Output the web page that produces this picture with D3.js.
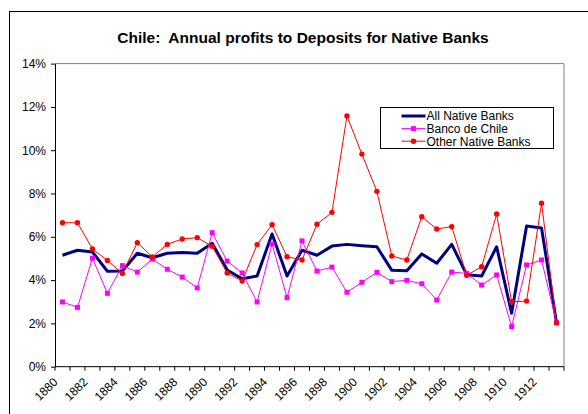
<!DOCTYPE html>
<html>
<head>
<meta charset="utf-8">
<script src="https://cdn.jsdelivr.net/npm/d3@7"></script>
<style>
  body { margin: 0; background: #fff; }
  svg { font-family: "Liberation Sans", Arial, sans-serif; }
</style>
</head>
<body>
<script>
const years = d3.range(1880, 1914);
const allBanks = [5.15, 5.38, 5.30, 4.41, 4.42, 5.24, 5.03, 5.24, 5.28, 5.24,
  5.70, 4.47, 4.06, 4.19, 6.13, 4.19, 5.38, 5.15, 5.57, 5.65,
  5.59, 5.54, 4.45, 4.43, 5.21, 4.78, 5.65, 4.25, 4.19, 5.54,
  2.47, 6.50, 6.41, 2.03];
const bancoChile = [2.99, 2.74, 5.01, 3.39, 4.67, 4.37, 4.97, 4.50, 4.14, 3.64,
  6.19, 4.88, 4.33, 2.99, 5.67, 3.19, 5.81, 4.42, 4.60, 3.44,
  3.90, 4.36, 3.93, 3.99, 3.83, 3.08, 4.37, 4.31, 3.77, 4.24,
  1.85, 4.70, 4.93, 2.03];
const otherBanks = [6.65, 6.65, 5.44, 4.91, 4.31, 5.73, 5.07, 5.65, 5.90, 5.96,
  5.56, 4.33, 3.96, 5.64, 6.56, 5.08, 4.93, 6.58, 7.13, 11.58,
  9.82, 8.10, 5.11, 4.93, 6.93, 6.36, 6.47, 4.22, 4.62, 7.05,
  3.00, 3.03, 7.55, 2.03];
const yTicks = [0, 0.02, 0.04, 0.06, 0.08, 0.10, 0.12, 0.14];

const series = [
  { name: "All Native Banks", values: allBanks, color: "#000080", width: 3, marker: null },
  { name: "Banco de Chile", values: bancoChile, color: "#ff00ff", width: 1, marker: "square" },
  { name: "Other Native Banks", values: otherBanks, color: "#ff0000", width: 1, marker: "circle" }
];

const W = 588, H = 414;
const pLeft = 55, pRight = 564, pTop = 63.6, pBottom = 366.7;

const svg = d3.select("body").append("svg")
  .attr("width", W)
  .attr("height", H);

// outer chart frame (runs off the window on the right and bottom)
svg.append("rect")
  .attr("x", 9.5).attr("y", 11.5)
  .attr("width", 620).attr("height", 440)
  .attr("fill", "none").attr("stroke", "#000");

svg.append("text")
  .attr("x", 303).attr("y", 43)
  .attr("text-anchor", "middle")
  .attr("font-size", 15.5).attr("font-weight", "bold")
  .style("white-space", "pre")
  .text("Chile:  Annual profits to Deposits for Native Banks");

const x = d3.scaleBand().domain(years).range([pLeft, pRight]);
const y = d3.scaleLinear().domain([0, 0.14]).range([pBottom, pTop]);
const cx = d => x(d) + x.bandwidth() / 2;

// plot area border (grey top and right)
svg.append("path")
  .attr("d", `M${pLeft},${y(0.14)}H${pRight}V${pBottom}`)
  .attr("fill", "none").attr("stroke", "#808080");

// y axis
const yAxis = svg.append("g")
  .attr("transform", `translate(${pLeft},0)`)
  .call(d3.axisLeft(y).tickValues(yTicks).tickFormat(d3.format(".0%")).tickSize(4).tickSizeOuter(0));
yAxis.select(".domain").attr("stroke", "#000");
yAxis.selectAll("text").attr("font-size", 12).attr("fill", "#000")
  .attr("font-family", "Liberation Sans, Arial, sans-serif").attr("dx", -2);

// x axis: line, ticks at category boundaries, rotated labels
const xg = svg.append("g");
xg.append("line")
  .attr("x1", pLeft).attr("x2", pRight)
  .attr("y1", pBottom).attr("y2", pBottom)
  .attr("stroke", "#000");
xg.selectAll(".tick")
  .data(years.map(d => x(d)).concat([pRight]))
  .enter().append("line")
  .attr("x1", d => d).attr("x2", d => d)
  .attr("y1", pBottom).attr("y2", pBottom + 4)
  .attr("stroke", "#000");
xg.selectAll(".lab")
  .data(years.filter((d, i) => i % 2 === 0))
  .enter().append("text")
  .attr("transform", d => `translate(${cx(d) - 4},${pBottom + 16}) rotate(-45)`)
  .attr("text-anchor", "end")
  .attr("font-size", 12)
  .text(d => d);

// series
const line = d3.line().x((d, i) => cx(years[i])).y(d => y(d / 100));
series.forEach(s => {
  svg.append("path")
    .datum(s.values)
    .attr("d", line)
    .attr("fill", "none")
    .attr("stroke", s.color)
    .attr("stroke-width", s.width)
    .attr("stroke-linejoin", "round");
  if (s.marker === "square") {
    svg.selectAll(null).data(s.values).enter().append("rect")
      .attr("x", (d, i) => cx(years[i]) - 2.5)
      .attr("y", d => y(d / 100) - 2.5)
      .attr("width", 5).attr("height", 5)
      .attr("fill", s.color);
  } else if (s.marker === "circle") {
    svg.selectAll(null).data(s.values).enter().append("circle")
      .attr("cx", (d, i) => cx(years[i]))
      .attr("cy", d => y(d / 100))
      .attr("r", 2.7)
      .attr("fill", s.color);
  }
});

// legend
const lg = svg.append("g").attr("transform", "translate(380.5,107.5)");
lg.append("rect")
  .attr("width", 173).attr("height", 41)
  .attr("fill", "#fff").attr("stroke", "#000");
series.forEach((s, i) => {
  const ly = 8.5 + i * 12.6;
  lg.append("line")
    .attr("x1", 21).attr("x2", 45)
    .attr("y1", ly).attr("y2", ly)
    .attr("stroke", s.color).attr("stroke-width", s.width);
  if (s.marker === "square") {
    lg.append("rect").attr("x", 30.5).attr("y", ly - 2.5)
      .attr("width", 5).attr("height", 5).attr("fill", s.color);
  } else if (s.marker === "circle") {
    lg.append("circle").attr("cx", 33).attr("cy", ly).attr("r", 2.7).attr("fill", s.color);
  }
  lg.append("text")
    .attr("x", 46).attr("y", ly + 4.3)
    .attr("font-size", 12)
    .text(s.name);
});
</script>
</body>
</html>
